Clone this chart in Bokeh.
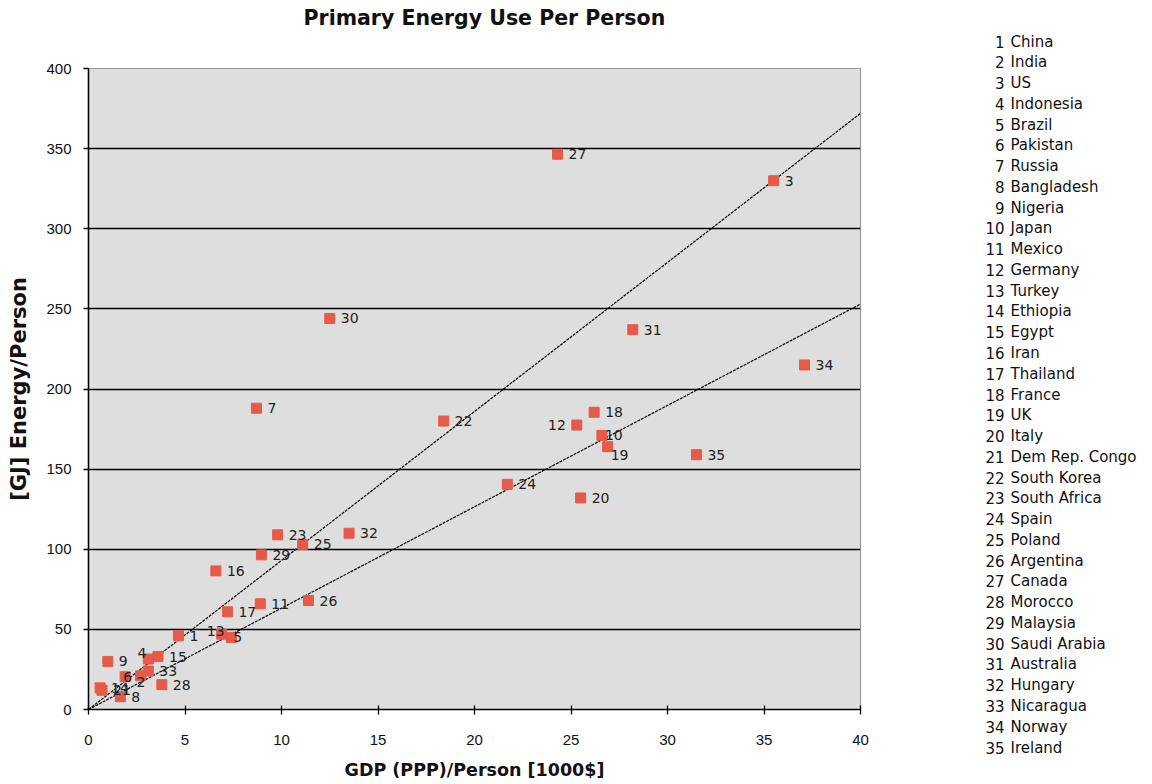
from bokeh.plotting import figure
from bokeh.models import ColumnDataSource, Range1d, FixedTicker, Title
from bokeh.layouts import row, column
from bokeh.embed import file_html
from bokeh.resources import INLINE
from bokeh.core.properties import value

# ---- data ----
ids = list(range(1, 36))
countries = ["China", "India", "US", "Indonesia", "Brazil", "Pakistan", "Russia",
             "Bangladesh", "Nigeria", "Japan", "Mexico", "Germany", "Turkey",
             "Ethiopia", "Egypt", "Iran", "Thailand", "France", "UK", "Italy",
             "Dem Rep. Congo", "South Korea", "South Africa", "Spain", "Poland",
             "Argentina", "Canada", "Morocco", "Malaysia", "Saudi Arabia",
             "Australia", "Hungary", "Nicaragua", "Norway", "Ireland"]
gdp = [4.66, 2.7, 35.5, 3.1, 7.4, 1.9, 8.7, 1.65, 1.0, 26.6, 8.9, 25.3, 6.9,
       0.6, 3.6, 6.6, 7.2, 26.2, 26.9, 25.5, 0.7, 18.4, 9.8, 21.7, 11.1, 11.4,
       24.3, 3.8, 8.96, 12.5, 28.2, 13.5, 3.1, 37.1, 31.5]
energy = [46, 21, 330, 31.5, 45, 20.5, 188, 8, 30, 171, 66, 177.5, 47, 13.5,
          33, 86.5, 61, 185.5, 164, 132, 12, 180, 109, 140.5, 103, 68, 346.5,
          15.5, 96.5, 244, 237, 110, 24, 215, 159]
trend_x = [0, 40]
trend_high = [0, 372]
trend_low = [0, 253]
x_ticks = [0, 5, 10, 15, 20, 25, 30, 35, 40]
y_ticks = [0, 50, 100, 150, 200, 250, 300, 350, 400]
title_text = "Primary Energy Use Per Person"

# label placement exceptions (screen offsets)
default_off = (11, 0, "left")
label_adjust = {
    12: (-11, 0, "right"),
    4: (-2, -6, "right"),
    13: (3, -3, "right"),
    2: (-4, 6, "left"),
    19: (3, 8, "left"),
    10: (3, 0, "left"),
    5: (2, 0, "left"),
    6: (-2, 0, "left"),
}

NARROW = "'Liberation Sans Narrow', 'Liberation Sans', sans-serif"
LBL = "DejaVu Sans"

W_MAIN, W_LEG, H = 970, 180, 782
FL, FR, FT, FB = 88, 860, 68, 711   # frame edges in page pixels
p = figure(width=W_MAIN, height=H, output_backend="svg", toolbar_location=None,
           x_range=Range1d(0, 40), y_range=Range1d(0, 400),
           min_border_left=FL, min_border_right=W_MAIN - FR,
           min_border_top=FT, min_border_bottom=H - FB)
p.border_fill_color = "white"
p.background_fill_color = "#dedede"
p.outline_line_color = "#9a9a9a"
p.outline_line_width = 1.2

# spacer panel next to the frame, then the real title above it
p.add_layout(Title(text=" ", text_font_size="10px", standoff=24), "above")
p.add_layout(Title(text=title_text, align="left", offset=303 - FL,
                   vertical_align="bottom", standoff=4,
                   text_font=LBL, text_font_size="20.5px", text_font_style="bold",
                   text_color="#111111"), "above")

# axes
p.xaxis.ticker = FixedTicker(ticks=x_ticks)
p.yaxis.ticker = FixedTicker(ticks=y_ticks)
for ax in (p.xaxis[0], p.yaxis[0]):
    ax.axis_line_color = "black"
    ax.axis_line_width = 1.5
    ax.major_tick_line_color = "black"
    ax.major_tick_line_width = 1.3
    ax.minor_tick_line_color = None
    ax.major_label_text_font = NARROW
    ax.major_label_text_font_size = "15px"
    ax.major_label_text_color = "#111111"
    ax.axis_label_text_font = LBL
    ax.axis_label_text_font_style = "bold"
    ax.axis_label_text_color = "#111111"
p.xaxis.axis_label_text_font_size = "17.5px"
p.yaxis.axis_label_text_font_size = "21px"
p.xaxis.major_tick_in = 4
p.xaxis.major_tick_out = 5
p.yaxis.major_tick_in = 0
p.yaxis.major_tick_out = 5
p.xaxis.major_label_standoff = 20
p.yaxis.major_label_standoff = 12
p.xaxis.axis_label = "GDP (PPP)/Person [1000$]"
p.yaxis.axis_label = "[GJ] Energy/Person"
p.xaxis.axis_label_standoff = 12
p.yaxis.axis_label_standoff = 12

p.xgrid.visible = False
p.ygrid.ticker = FixedTicker(ticks=y_ticks[1:-1])
p.ygrid.grid_line_color = "black"
p.ygrid.grid_line_width = 1.5

# trend lines
p.line(trend_x, trend_high, line_color="black", line_width=1.2, line_dash="3 1")
p.line(trend_x, trend_low, line_color="black", line_width=1.2, line_dash="3 1")

# points
dx, dy, al = [], [], []
for i in ids:
    o = label_adjust.get(i, default_off)
    dx.append(o[0]); dy.append(o[1]); al.append(o[2])
src = ColumnDataSource(dict(x=gdp, y=energy, lab=[str(i) for i in ids],
                            dx=dx, dy=dy, al=al))
p.scatter("x", "y", source=src, marker="square", size=10,
          fill_color="#e65a4a", line_color="#e65a4a")
p.text("x", "y", text="lab", source=src, x_offset="dx", y_offset="dy",
       text_align="al", text_baseline="middle", text_font=value(LBL),
       text_font_size="14px", text_color="#222222")

# numbered country list: separate figure, one row per index
row_step = 706 / 34.0
first_row_y = 41
top_idx = 1 - first_row_y / row_step
bot_idx = top_idx + H / row_step
leg = figure(width=W_LEG, height=H, output_backend="svg", toolbar_location=None,
             x_range=Range1d(0, W_LEG), y_range=Range1d(bot_idx, top_idx),
             min_border=0, min_border_left=0, min_border_right=0,
             min_border_top=0, min_border_bottom=0)
leg.axis.visible = False
leg.grid.visible = False
leg.outline_line_color = None
leg.background_fill_color = "white"
leg.border_fill_color = "white"
num_x = 1004 - W_MAIN
name_x = 1010 - W_MAIN
lsrc = ColumnDataSource(dict(y=ids, num=[str(i) for i in ids], name=countries,
                             xn=[num_x] * len(ids), xt=[name_x] * len(ids)))
leg.text("xn", "y", text="num", source=lsrc, text_align="right",
         text_baseline="middle", text_font=value(LBL), text_font_size="15px",
         text_color="#111111")
leg.text("xt", "y", text="name", source=lsrc, text_align="left",
         text_baseline="middle", text_font=value(LBL), text_font_size="15px",
         text_color="#111111")

layout = row(p, column(leg))
open("out.html", "w").write(file_html(layout, INLINE))
